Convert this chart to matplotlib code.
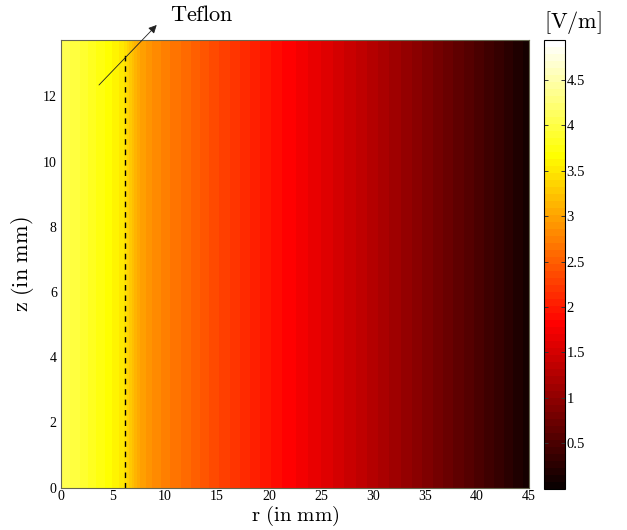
import numpy as np
import matplotlib
matplotlib.use("Agg")
import matplotlib.pyplot as plt
from matplotlib.colors import ListedColormap
from matplotlib.ticker import FormatStrFormatter

plt.rcParams['mathtext.fontset'] = 'cm'

# ---- data ----
r_mm = [0, 1.5, 3, 4.5, 6, 7.5, 9, 10.5, 12, 13.5, 15, 16.5, 18, 19.5, 21,
        22.5, 24, 25.5, 27, 28.5, 30, 31.5, 33, 34.5, 36, 37.5, 39, 40.5,
        42, 43.5, 45]
E_vm = [4.08, 3.97, 3.82, 3.68, 3.50, 3.02, 2.83, 2.70, 2.59, 2.46, 2.33,
        2.22, 2.10, 1.98, 1.87, 1.78, 1.68, 1.59, 1.48, 1.38, 1.27, 1.16,
        1.06, 0.94, 0.83, 0.71, 0.60, 0.48, 0.36, 0.23, 0.11]
z_max = 13.73
teflon_r = 6.2
c_min, c_max = 0.0, 4.94
x_ticks = [0, 5, 10, 15, 20, 25, 30, 35, 40, 45]
y_ticks = [0, 2, 4, 6, 8, 10, 12]
cb_ticks = [0.5, 1, 1.5, 2, 2.5, 3, 3.5, 4, 4.5]

# MATLAB-style hot(64) colormap
m = 64
n = int(3 * m / 8)
rr = np.concatenate([np.arange(1, n + 1) / n, np.ones(m - n)])
gg = np.concatenate([np.zeros(n), np.arange(1, n + 1) / n, np.ones(m - 2 * n)])
bb = np.concatenate([np.zeros(2 * n), np.arange(1, m - 2 * n + 1) / (m - 2 * n)])
cmap = ListedColormap(np.column_stack([rr, gg, bb]))

fig = plt.figure(figsize=(6.27, 5.30), dpi=100)
ax = fig.add_axes([0.0973, 0.0798, 0.7464, 0.8447])
cax = fig.add_axes([0.8676, 0.0780, 0.0335, 0.8465])

E2d = np.vstack([E_vm, E_vm])
dr = r_mm[1] - r_mm[0]
im = ax.imshow(E2d, extent=[r_mm[0] - dr / 2, r_mm[-1] + dr / 2, 0, z_max],
               origin='lower', aspect='auto', cmap=cmap, vmin=c_min, vmax=c_max,
               interpolation='bilinear')
ax.set_xlim(0, 45)
ax.set_ylim(0, z_max)

ax.plot([teflon_r, teflon_r], [0, 13.4], color='black', lw=1.0,
        linestyle=(0, (4, 3.5)))

ax.annotate('', xy=(9.2, 14.19), xytext=(3.65, 12.35),
            arrowprops=dict(arrowstyle='-|>', lw=0.6, color='#222222',
                            mutation_scale=12, shrinkA=0, shrinkB=0),
            annotation_clip=False)
ax.text(10.5, 14.5, r'$\mathrm{Teflon}$', fontsize=16, ha='left', va='center',
        clip_on=False)

tick_font = dict(family='Liberation Serif', size=10)
ax.set_xticks(x_ticks)
ax.set_yticks(y_ticks)
ax.set_xticklabels([str(t) for t in x_ticks], **tick_font)
ax.set_yticklabels([str(t) for t in y_ticks], **tick_font)
ax.tick_params(length=0, pad=3)
ax.tick_params(axis='x', pad=2)
for s in ax.spines.values():
    s.set_color('#666650')
    s.set_linewidth(0.8)

ax.set_xlabel(r'$\mathrm{r\ (in\ mm)}$', fontsize=15, labelpad=0)
ax.set_ylabel(r'$\mathrm{z\ (in\ mm)}$', fontsize=16, labelpad=5)

cb = fig.colorbar(im, cax=cax, ticks=cb_ticks)
cb.ax.yaxis.set_major_formatter(FormatStrFormatter('%g'))
for lab in cb.ax.get_yticklabels():
    lab.set_fontfamily('Liberation Serif')
    lab.set_fontsize(10.5)
cb.ax.tick_params(direction='in', length=3, width=0.7, left=True, right=True,
                  pad=1, color='#333333')
cb.outline.set_linewidth(0.8)
cax.text(0.0, 1.01, r'$\mathrm{[V/m]}$', transform=cax.transAxes, fontsize=16,
         ha='left', va='bottom')

fig.savefig('out.png', dpi=100)
